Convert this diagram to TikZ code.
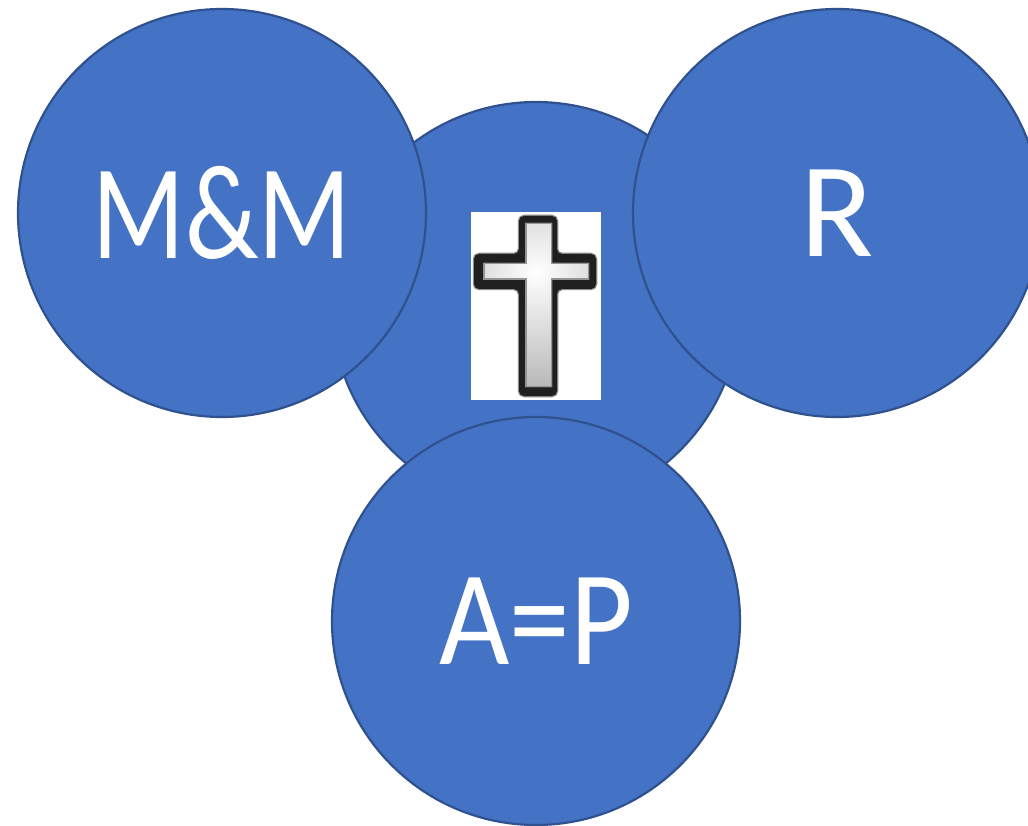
\documentclass[tikz,border=0pt]{standalone}
\usepackage{graphicx}
\usepackage{fontspec}
\setmainfont{Carlito}
\definecolor{fillblue}{HTML}{4472C4}
\definecolor{edgeblue}{HTML}{2F528F}
\tikzset{disc/.style={circle,draw=edgeblue,fill=fillblue,line width=2.2pt,minimum size=408pt,inner sep=0pt,text=white,font=\fontsize{135}{135}\selectfont}}
\def\crossouter{(519,216) -- (557,216) -- (557,254) -- (596,254) -- (596,289) -- (557,289) -- (557,396) -- (519,396) -- (519,289) -- (474,289) -- (474,254) -- (519,254) -- cycle}
\def\crossinner{(525,223) -- (552,223) -- (552,263) -- (589,263) -- (589,280) -- (552,280) -- (552,387) -- (525,387) -- (525,280) -- (483,280) -- (483,263) -- (525,263) -- cycle}
\begin{document}
\begin{tikzpicture}[x=1pt,y=-1pt]
\useasboundingbox (0,0) rectangle (1028,826);
\node[disc] (center) at (536,306) {};
\node[disc] (mm) at (222,213) {\raisebox{-6pt}{\scalebox{0.8}[1]{M\&M}}};
\node[disc] (r) at (837,213) {\raisebox{-6pt}{R}};
\node[disc] (ap) at (536,621) {\raisebox{-6pt}{\scalebox{0.9}[1]{A=P}}};
\fill[white] (471,212) rectangle (601,400);
\draw[line join=round,rounded corners=5pt,line width=2.5pt,black!45] \crossouter;
\fill[rounded corners=5pt,black!88] \crossouter;
\begin{scope}
\clip \crossinner;
\shade[inner color=white,outer color=black!30] (536,272) circle (125pt);
\draw[line width=3pt,black!42] \crossinner;
\end{scope}
\end{tikzpicture}
\end{document}
